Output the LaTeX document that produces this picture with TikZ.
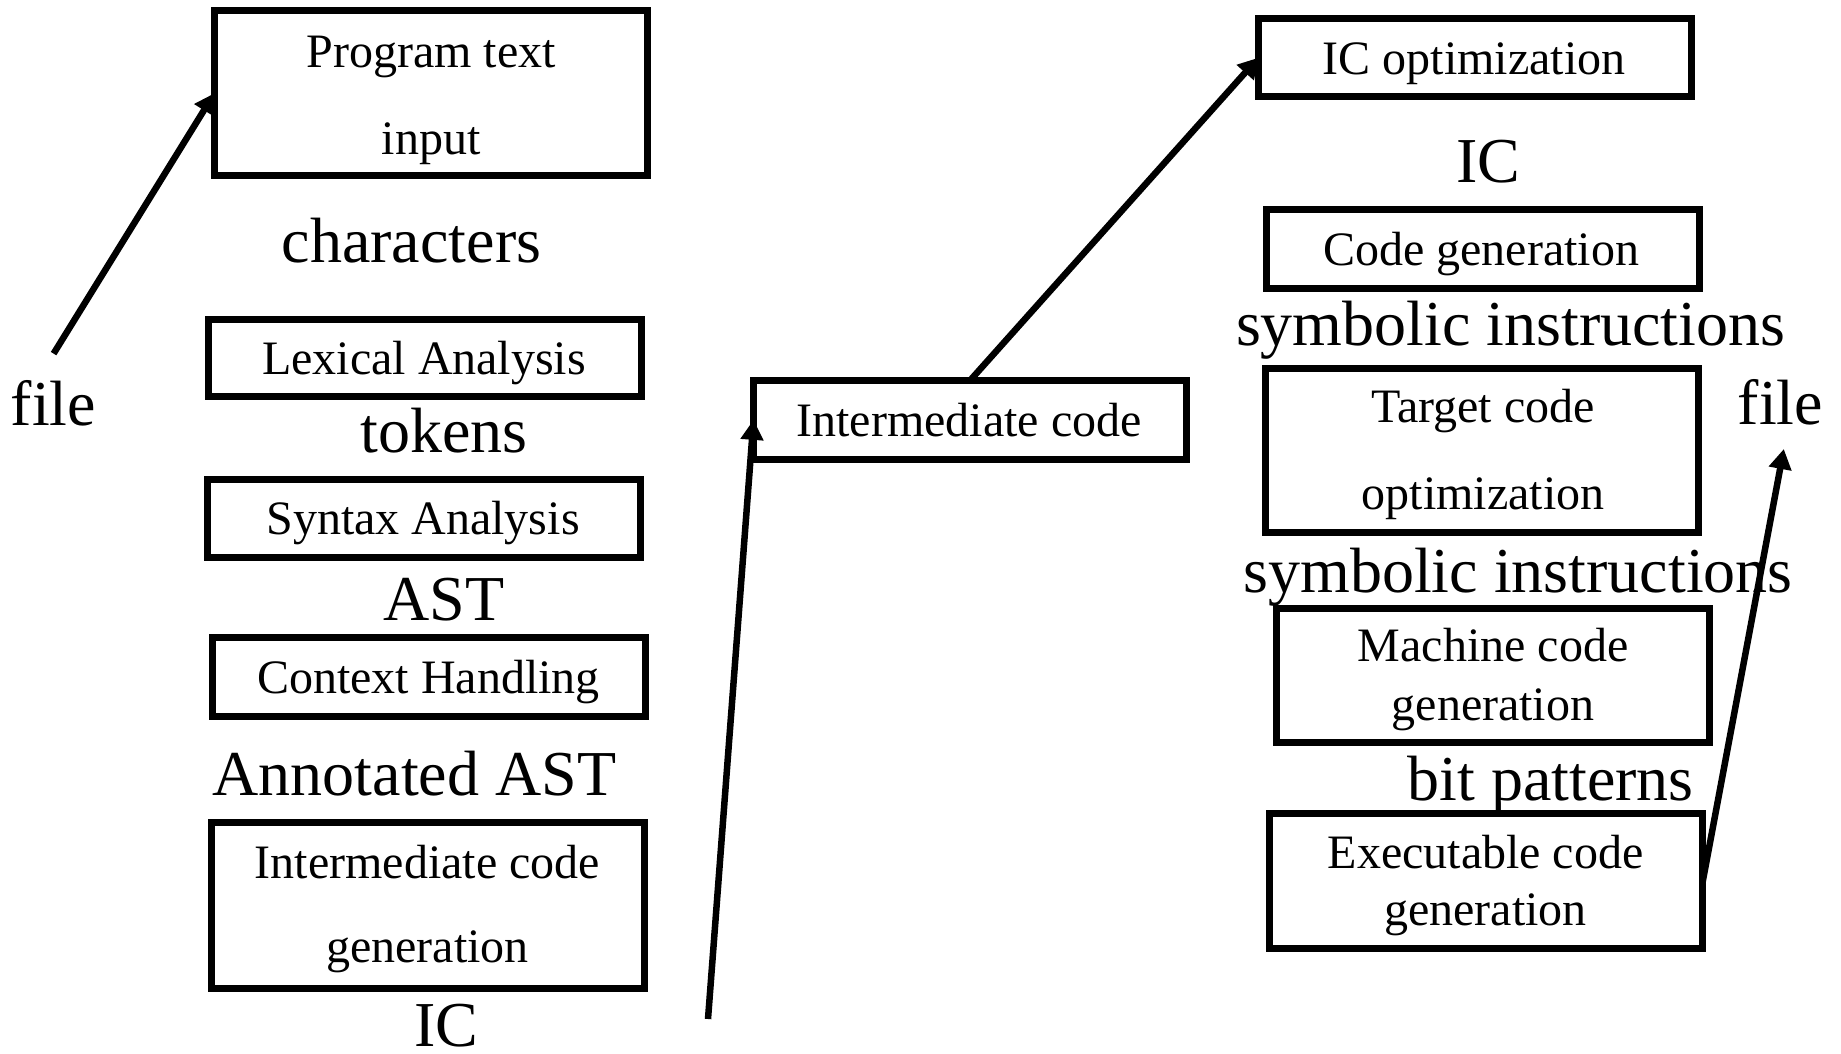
\documentclass[tikz,border=0pt]{standalone}
\usepackage{fontspec}
\setmainfont{Liberation Serif}
\usetikzlibrary{arrows.meta}
\tikzset{
  stagebox/.style={draw=black, line width=7pt, inner sep=0pt, outer sep=0pt, minimum width=433pt},
  boxtext/.style={anchor=base, inner sep=0pt, font=\fontsize{48}{58}\selectfont},
  biglabel/.style={anchor=base, inner sep=0pt, font=\fontsize{64}{77}\selectfont},
  flow/.style={draw=black, line width=6.5pt, -{Triangle[length=20pt,width=22pt]}}
}
\begin{document}
\begin{tikzpicture}[x=1pt, y=-1pt]
\fill[white] (0,0) rectangle (1841,1053);
\useasboundingbox (0,0) rectangle (1841,1053);

% ---------- left column ----------
\node[stagebox, minimum height=164.6pt] (prog) at (431,93.2) {};
\node[boxtext] (progA) at (431,67) {Program text};
\node[boxtext] (progB) at (431,154) {input};
\node[biglabel] (chars) at (411.5,262) {characters};

\node[stagebox, minimum height=77.8pt] (lex) at (425,358) {};
\node[boxtext] (lexT) at (424,374.5) {Lexical Analysis};
\node[biglabel] (tokens) at (444,452.7) {tokens};

\node[stagebox, minimum height=78pt] (syn) at (424.3,518.5) {};
\node[boxtext] (synT) at (423,534) {Syntax Analysis};
\node[biglabel] (ast) at (444,620) {AST};

\node[stagebox, minimum height=78.6pt] (ctx) at (428.8,676.8) {};
\node[boxtext] (ctxT) at (428.6,693.7) {Context Handling};
\node[biglabel] (aast) at (414.5,795.5) {Annotated AST};

\node[stagebox, minimum height=166pt] (icgen) at (428,905.5) {};
\node[boxtext] (icgenA) at (427.5,878) {Intermediate code};
\node[boxtext] (icgenB) at (427.5,962) {generation};
\node[biglabel, text depth=0pt] (icB) at (446,1046) {IC};

\node[biglabel] (fileL) at (53.5,425) {file};
\coordinate (fileLstart) at (53.6,353.6);

% ---------- middle ----------
\node[stagebox, minimum height=78.5pt] (mid) at (970,419.8) {};
\node[boxtext] (midT) at (969,436) {Intermediate code};
\coordinate (midstart) at (708,1019);

% ---------- right column ----------
\node[stagebox, minimum height=78.4pt] (icopt) at (1475,57.7) {};
\node[boxtext] (icoptT) at (1474,74) {IC optimization};
\node[biglabel] (icT) at (1488.5,182) {IC};

\node[stagebox, minimum height=78.7pt] (cgen) at (1483,248.9) {};
\node[boxtext] (cgenT) at (1481,265) {Code generation};
\node[biglabel] (sym1) at (1510.7,345) {symbolic instructions};

\node[stagebox, minimum height=164pt] (tco) at (1482,450.9) {};
\node[boxtext] (tcoA) at (1483,422.6) {Target code};
\node[boxtext] (tcoB) at (1483,509) {optimization};
\node[biglabel] (fileR) at (1780.5,424.7) {file};
\coordinate (fileRtip) at (1783.8,449);

\node[biglabel] (sym2) at (1518,592.3) {symbolic instructions};

\node[stagebox, minimum height=134pt] (mcg) at (1493.3,675.1) {};
\node[boxtext] (mcgA) at (1493,661.8) {Machine code};
\node[boxtext] (mcgB) at (1493,720.3) {generation};
\node[biglabel] (bits) at (1550.5,800.8) {bit patterns};

\node[stagebox, minimum height=135pt] (exe) at (1486.3,881) {};
\node[boxtext] (exeA) at (1485.6,868) {Executable code};
\node[boxtext] (exeB) at (1485.6,925.5) {generation};

% ---------- connectors ----------
\draw[flow] (fileLstart) -- (prog.west);
\draw[flow] (midstart) -- (mid.west);
\draw[flow] (mid.north) -- (icopt.west);
\draw[flow] (exe.east) -- (fileRtip);
\end{tikzpicture}
\end{document}
